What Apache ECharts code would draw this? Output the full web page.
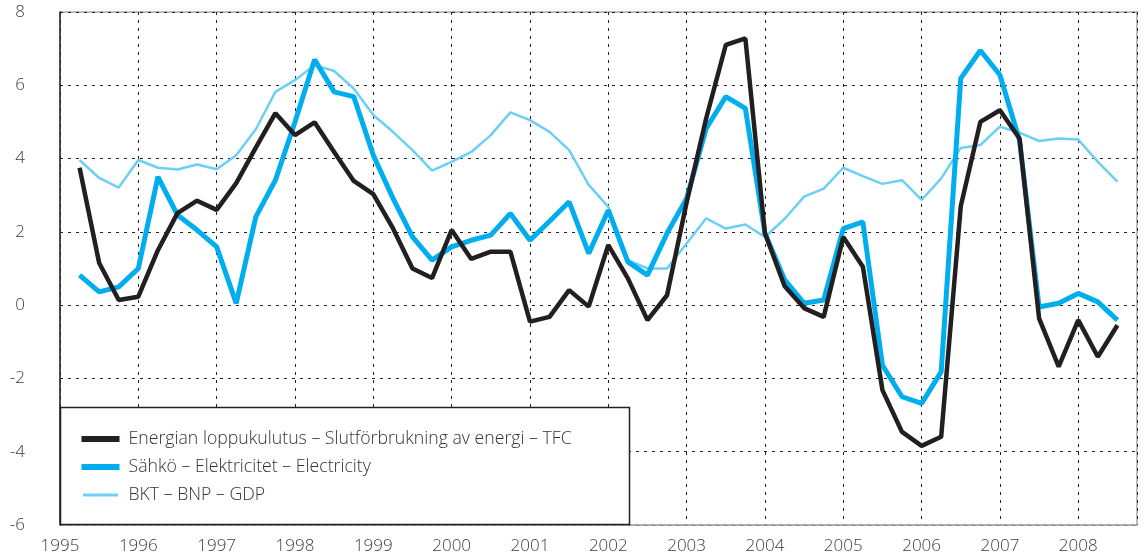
<!DOCTYPE html>
<html>
<head>
<meta charset="utf-8">
<script src="https://cdn.jsdelivr.net/npm/echarts@6/dist/echarts.min.js"></script>
<style>html,body{margin:0;padding:0;background:#fff}#c{width:1145px;height:560px}</style>
</head>
<body>
<div id="c"></div>
<script>
// Quarters 1995Q1 .. 2008Q2 (plotted at the end of each quarter)
const quarters = [
 '1995Q1','1995Q2','1995Q3','1995Q4','1996Q1','1996Q2','1996Q3','1996Q4',
 '1997Q1','1997Q2','1997Q3','1997Q4','1998Q1','1998Q2','1998Q3','1998Q4',
 '1999Q1','1999Q2','1999Q3','1999Q4','2000Q1','2000Q2','2000Q3','2000Q4',
 '2001Q1','2001Q2','2001Q3','2001Q4','2002Q1','2002Q2','2002Q3','2002Q4',
 '2003Q1','2003Q2','2003Q3','2003Q4','2004Q1','2004Q2','2004Q3','2004Q4',
 '2005Q1','2005Q2','2005Q3','2005Q4','2006Q1','2006Q2','2006Q3','2006Q4',
 '2007Q1','2007Q2','2007Q3','2007Q4','2008Q1','2008Q2'
];
const tfc = [
 3.75, 1.15, 0.14, 0.23, 1.5, 2.51, 2.85, 2.6,
 3.33, 4.3, 5.24, 4.64, 4.99, 4.18, 3.39, 3.03,
 2.1, 1.0, 0.74, 2.05, 1.26, 1.46, 1.46, -0.45,
 -0.32, 0.41, -0.04, 1.64, 0.73, -0.41, 0.27, 2.8,
 5.1, 7.1, 7.28, 1.96, 0.52, -0.08, -0.32, 1.86,
 1.05, -2.32, -3.46, -3.84, -3.59, 2.7, 5.0, 5.32,
 4.55, -0.36, -1.68, -0.41, -1.41, -0.55
];
const electricity = [
 0.82, 0.36, 0.5, 1.0, 3.5, 2.46, 2.05, 1.59,
 0.05, 2.41, 3.41, 5.0, 6.7, 5.82, 5.69, 4.09,
 2.92, 1.86, 1.23, 1.59, 1.77, 1.91, 2.5, 1.77,
 2.29, 2.82, 1.41, 2.59, 1.18, 0.82, 1.96, 2.91,
 4.82, 5.69, 5.37, 1.96, 0.7, 0.05, 0.14, 2.09,
 2.27, -1.64, -2.5, -2.68, -1.82, 6.19, 6.95, 6.28,
 4.5, -0.05, 0.05, 0.32, 0.09, -0.41
];
const gdp = [
 3.96, 3.47, 3.21, 3.96, 3.75, 3.7, 3.84, 3.71,
 4.09, 4.8, 5.82, 6.14, 6.55, 6.39, 5.91, 5.19,
 4.73, 4.23, 3.67, 3.91, 4.18, 4.64, 5.26, 5.05,
 4.73, 4.23, 3.28, 2.68, 1.23, 1.0, 1.0, 1.68,
 2.37, 2.09, 2.2, 1.86, 2.35, 2.96, 3.18, 3.75,
 3.52, 3.31, 3.41, 2.87, 3.46, 4.29, 4.37, 4.87,
 4.71, 4.48, 4.55, 4.52, 3.91, 3.37
];
const seriesNames = [
 'Energian loppukulutus – Slutförbrukning av energi – TFC',
 'Sähkö – Elektricitet – Electricity',
 'BKT – BNP – GDP'
];
const yTicks = [-6, -4, -2, 0, 2, 4, 6, 8];

function qx(q){ return parseInt(q.slice(0,4),10) + parseInt(q.slice(5),10) * 0.25; }
function pairs(vals){ return quarters.map((q,i)=>[qx(q), vals[i]]); }

const font = 'Open Sans, Liberation Sans, sans-serif';
const chart = echarts.init(document.getElementById('c'), null, {renderer:'canvas'});
chart.setOption({
  animation:false,
  backgroundColor:'#fff',
  grid:{left:60, right:8, top:12, bottom:35, show:true, borderColor:'#a8a8a8', borderWidth:1.5, backgroundColor:'transparent'},
  xAxis:{
    type:'value', min:1995, max:2008.75, interval:1,
    axisLine:{show:true, onZero:false, lineStyle:{color:'#a8a8a8', width:1.5}},
    axisTick:{show:false},
    axisLabel:{color:'#3c3c3c', fontSize:17, fontWeight:300, fontFamily:font, margin:13, showMaxLabel:false,
      formatter:v=> (Math.abs(v-Math.round(v))<1e-6 ? String(Math.round(v)) : '')},
    splitLine:{show:true, lineStyle:{color:'#222', type:[3,5], width:1}}
  },
  yAxis:{
    type:'value', min:-6, max:8, interval:2,
    axisLine:{show:true, onZero:false, lineStyle:{color:'#2a2a2a', width:1.5}},
    axisTick:{show:false},
    axisLabel:{color:'#3c3c3c', fontSize:17, fontWeight:300, fontFamily:font, margin:35,
      formatter:v=> yTicks.includes(v) ? String(v) : ''},
    splitLine:{show:true, lineStyle:{color:'#222', type:[3,5], width:1}}
  },
  legend:{
    orient:'vertical', left:75, top:425, z:20,
    itemWidth:38, itemHeight:6, itemGap:10, icon:'rect',
    textStyle:{color:'#333', fontSize:17.7, fontWeight:300, lineHeight:16, fontFamily:font, padding:[0,0,0,4]},
    data:[
      {name:seriesNames[0], icon:'rect', itemStyle:{color:'#231f20', borderWidth:0}},
      {name:seriesNames[1], icon:'rect', itemStyle:{color:'#00aeef', borderWidth:0}},
      {name:seriesNames[2], icon:'rect', itemStyle:{color:'#6dcff6', borderColor:'#ffffff', borderWidth:3}}
    ]
  },
  graphic:[{
    type:'rect', z:10, silent:true,
    shape:{x:60.5, y:407.5, width:569, height:117},
    style:{fill:'#fff', stroke:'#222', lineWidth:1.5}
  }],
  series:[
    {name:seriesNames[2], type:'line', data:pairs(gdp), showSymbol:false, symbol:'none',
     lineStyle:{color:'#6dcff6', width:2.5}, itemStyle:{color:'#6dcff6'}, z:2},
    {name:seriesNames[1], type:'line', data:pairs(electricity), showSymbol:false, symbol:'none',
     lineStyle:{color:'#00aeef', width:5}, itemStyle:{color:'#00aeef'}, z:3},
    {name:seriesNames[0], type:'line', data:pairs(tfc), showSymbol:false, symbol:'none',
     lineStyle:{color:'#231f20', width:4.5}, itemStyle:{color:'#231f20'}, z:4}
  ]
});
</script>
</body>
</html>
